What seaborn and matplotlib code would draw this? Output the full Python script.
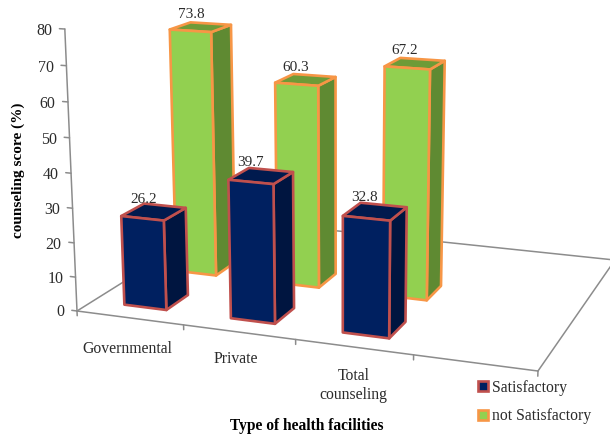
import matplotlib
matplotlib.use("Agg")
import numpy as np
import seaborn as sns
import matplotlib.pyplot as plt
from matplotlib.patches import Patch

categories = ["Governmental", "Private", "Total\ncounseling"]
satisfactory = [26.2, 39.7, 32.8]
not_satisfactory = [73.8, 60.3, 67.2]
series_names = ["Satisfactory", "not Satisfactory"]
z_ticks = [0, 10, 20, 30, 40, 50, 60, 70, 80]

sns.set_theme(style="white")
plt.rcParams["font.family"] = ["Liberation Serif", "DejaVu Serif"]

navy = sns.color_palette(["#002060", "#001540", "#001A4E"])
green = sns.color_palette(["#92D050", "#5F8A32", "#6E9B37"])
navy_edge, green_edge = "#C0504D", "#F79646"
grey, text_col = "#8C8C8C", "#2B2B2B"

W, H = 610, 437
fig = plt.figure(figsize=(W / 100, H / 100), dpi=100, facecolor="white")
ax = fig.add_axes([0, -(W - H) / 2 / H, 1, W / H], projection="3d")
ax.set_axis_off()
ax.patch.set_visible(False)
ax.computed_zorder = False

# Camera that reproduces the oblique view of the floor (4 x 2 units) and the vertical axis
a, b, c = 408.3 / 4, 191.5 / 2, 77.0
d, e, f = 23.7 / 4, -48.5 / 2, 311.0
g, h = -0.0979 / 4, 0.1985 / 2
k = -0.04426 / 80
vx, vy = 340.0, 6400.0
CAM = np.array([[a, b, k * vx, c], [d, e, k * vy, f], [g, h, k, 1.0]])


def camera_proj():
    (x0, y0), (x1, y1) = ax.transData.inverted().transform([(0, 0), (W, H)])
    sx, sy = (x1 - x0) / W, (y1 - y0) / H
    return np.array([
        sx * CAM[0] + x0 * CAM[2],
        -sy * CAM[1] + (y0 + sy * H) * CAM[2],
        [0.0, 0.2, 0.0, -0.5],
        CAM[2],
    ])


ax.get_proj = camera_proj


def text3d(x, y, z, s, **kw):
    """Place a flat text at the camera image of a chart position."""
    u, v, w = CAM @ np.array([x, y, z, 1.0])
    fig.text(u / w / W, 1 - v / w / H, s, **kw)


# Floor and axis lines
line_kw = dict(color=grey, lw=1.1, zorder=1)
ax.plot([0, 4], [0, 0], [0, 0], **line_kw)
ax.plot([4, 4], [0, 2], [0, 0], **line_kw)
ax.plot([0, 4], [2, 2], [0, 0], **line_kw)
ax.plot([0, 0], [0, 2], [0, 0], **line_kw)
ax.plot([0, 0], [0, 0], [0, z_ticks[-1]], **line_kw)
for zt in z_ticks:
    ax.plot([-0.05, 0], [0, 0], [zt, zt], **line_kw)
    text3d(-0.12, 0, zt - 0.9, str(zt), ha="right", va="center", fontsize=11.5, color=text_col)
for xt in range(5):
    ax.plot([xt, xt], [0, 0], [0, -1.4], **line_kw)
cat_drop = [-9.2, -8.0, -10.8]
cat_shift = [-0.03, -0.03, 0.0]
for i, lab in enumerate(categories):
    text3d(i + 0.5 + cat_shift[i], 0, cat_drop[i], lab, ha="center", va="center", fontsize=11.3,
           color=text_col, linespacing=1.25)


def bar(xc, yc, value, shades, edge, z):
    none = (0, 0, 0, 0)
    # face order: bottom, top, front, back, left, right
    faces = [none, shades[2], shades[0], none, none, shades[1]]
    edges = [none, edge, edge, none, none, edge]
    ax.bar3d(xc - 0.2, yc - 0.14, 0, 0.4, 0.28, value, color=faces, edgecolor=edges,
             linewidth=1.9, shade=False, zorder=z)
    text3d(xc - 0.09, yc, value + 3.5, f"{value}", ha="center", va="center",
           fontsize=11, color=text_col, zorder=9)


for i, v in enumerate(not_satisfactory):
    bar(i + 0.5, 1.0, v, green, green_edge, 2)
for i, v in enumerate(satisfactory):
    bar(i + 0.5, 0.33, v, navy, navy_edge, 3)

fig.text(18 / W, 1 - 170 / H, "counseling score (%)", rotation=90, ha="center", va="center",
         fontsize=11, fontweight="bold", color="black")
fig.text(306.5 / W, 1 - 426 / H, "Type of health facilities", ha="center", va="center",
         fontsize=11.2, fontweight="bold", color="black")

handles = [Patch(facecolor=navy[0], edgecolor=navy_edge, linewidth=1.9),
           Patch(facecolor=green[0], edgecolor=green_edge, linewidth=1.9)]
fig.legend(handles, series_names, loc="upper left", bbox_to_anchor=(476 / W, 1 - 378 / H),
           frameon=False, fontsize=11.3, handlelength=0.65, handleheight=0.65,
           handletextpad=0.28, labelspacing=0.82, labelcolor=text_col,
           borderpad=0.1, borderaxespad=0)

fig.savefig("out.png", dpi=100, facecolor="white")
